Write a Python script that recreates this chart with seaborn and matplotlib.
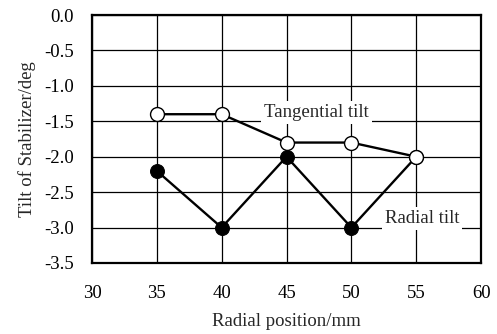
import matplotlib
matplotlib.use("Agg")
import matplotlib.pyplot as plt
import seaborn as sns
import pandas as pd
from matplotlib.ticker import FormatStrFormatter

positions = [35, 40, 45, 50, 55]
tangential = [-1.4, -1.4, -1.8, -1.8, -2.0]
radial = [-2.2, -3.0, -2.0, -3.0, -2.0]

sns.set_style("white")
plt.rcParams['font.family'] = ['Liberation Serif', 'DejaVu Serif']
plt.rcParams['font.size'] = 13

df = pd.DataFrame({"pos": positions, "tan": tangential, "rad": radial})

fig = plt.figure(figsize=(4.97, 3.34), dpi=100)
ax = fig.add_axes([0.185, 0.2126, 0.783, 0.7424])

sns.lineplot(data=df, x="pos", y="rad", ax=ax, color="black", linewidth=1.7,
             marker="o", markersize=10, markerfacecolor="black",
             markeredgecolor="black", zorder=3)
sns.lineplot(data=df, x="pos", y="tan", ax=ax, color="black", linewidth=1.7,
             marker="o", markersize=10, markerfacecolor="white",
             markeredgecolor="black", markeredgewidth=1.0, zorder=4)

ax.set_xlim(30, 60)
ax.set_ylim(-3.5, 0.0)
ax.set_xticks([30, 35, 40, 45, 50, 55, 60])
ax.set_yticks([-3.5, -3.0, -2.5, -2.0, -1.5, -1.0, -0.5, 0.0])
ax.yaxis.set_major_formatter(FormatStrFormatter('%.1f'))
ax.grid(True, color="black", linewidth=0.9)
ax.set_axisbelow(True)
for s in ax.spines.values():
    s.set_color("black")
    s.set_linewidth(1.6)
ax.tick_params(axis="y", length=0, pad=13, labelsize=13.5, colors="black")
ax.tick_params(axis="x", length=0, pad=16, labelsize=13.5, colors="black")
ax.set_xlabel("Radial position/mm", fontsize=13.5, labelpad=8)
ax.set_ylabel("Tilt of Stabilizer/deg", fontsize=13.5, labelpad=6)

ax.text(47.3, -1.38, "Tangential tilt", fontsize=13.5, ha="center", va="center",
        bbox=dict(facecolor="white", edgecolor="none", pad=2), zorder=5)
ax.text(55.45, -2.87, "Radial tilt", fontsize=13.5, ha="center", va="center",
        bbox=dict(facecolor="white", edgecolor="none", pad=2), zorder=5)

fig.savefig("out.png", dpi=100)
